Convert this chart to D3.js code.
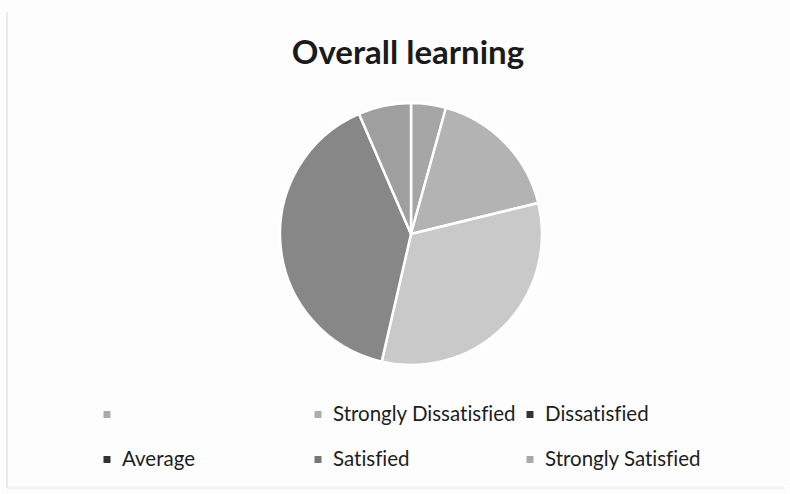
<!DOCTYPE html>
<html>
<head>
<meta charset="utf-8">
<script src="https://cdn.jsdelivr.net/npm/d3@7"></script>
<style>
  html, body { margin: 0; padding: 0; background: #fdfdfd; }
  svg { display: block; }
  text { font-variant-ligatures: none; }
</style>
</head>
<body>
<svg id="chart" width="790" height="494"></svg>
<script>
const title = "Overall learning";
const categories = ["", "Strongly Dissatisfied", "Dissatisfied", "Average", "Satisfied", "Strongly Satisfied"];
const values = [0, 4.3, 16.9, 32.4, 39.9, 6.5];
const sliceColors = ["#a9a9a9", "#a6a6a6", "#b3b3b3", "#c9c9c9", "#878787", "#9f9f9f"];
const legendColors = ["#ababab", "#acacac", "#333333", "#333333", "#777777", "#a9a9a9"];

const svg = d3.select("#chart");
const W = 790, H = 494;

svg.append("rect").attr("x", 0).attr("y", 0).attr("width", W).attr("height", H).attr("fill", "#fdfdfd");
svg.append("line").attr("x1", 7).attr("x2", 7).attr("y1", 12).attr("y2", 488)
  .attr("stroke", "#e4e4e4").attr("stroke-width", 1.5);
svg.append("line").attr("x1", 7).attr("x2", 785).attr("y1", 488).attr("y2", 488)
  .attr("stroke", "#ececec").attr("stroke-width", 1.5);

svg.append("text")
  .attr("x", 408).attr("y", 64)
  .attr("text-anchor", "middle")
  .attr("font-family", "Lato, 'Open Sans', sans-serif")
  .attr("font-weight", "bold")
  .attr("font-size", 33)
  .attr("fill", "#1a1a1a")
  .text(title);

const data = categories.map((c, i) => ({ cat: c, value: values[i], i }));
const pie = d3.pie().value(d => d.value).sort(null);
const arc = d3.arc().innerRadius(0).outerRadius(131);

const g = svg.append("g").attr("transform", "translate(411,234)");
g.selectAll("path")
  .data(pie(data).filter(d => d.data.value > 0))
  .join("path")
  .attr("d", arc)
  .attr("fill", d => sliceColors[d.data.i])
  .attr("stroke", "#ffffff")
  .attr("stroke-width", 2.5)
  .attr("stroke-linejoin", "round");

const colX = [107, 318, 530];
const rowY = [415, 460];
const leg = svg.append("g");
data.forEach((d, i) => {
  const cx = colX[i % 3], cy = rowY[Math.floor(i / 3)];
  leg.append("rect")
    .attr("x", cx - 3.5).attr("y", cy - 4).attr("width", 7).attr("height", 7)
    .attr("fill", legendColors[i]);
  leg.append("text")
    .attr("x", cx + 15).attr("y", cy + 6)
    .attr("font-family", "Lato, 'Open Sans', sans-serif")
    .attr("font-size", 20.5)
    .attr("fill", "#1e1e1e")
    .text(d.cat);
});
</script>
</body>
</html>
